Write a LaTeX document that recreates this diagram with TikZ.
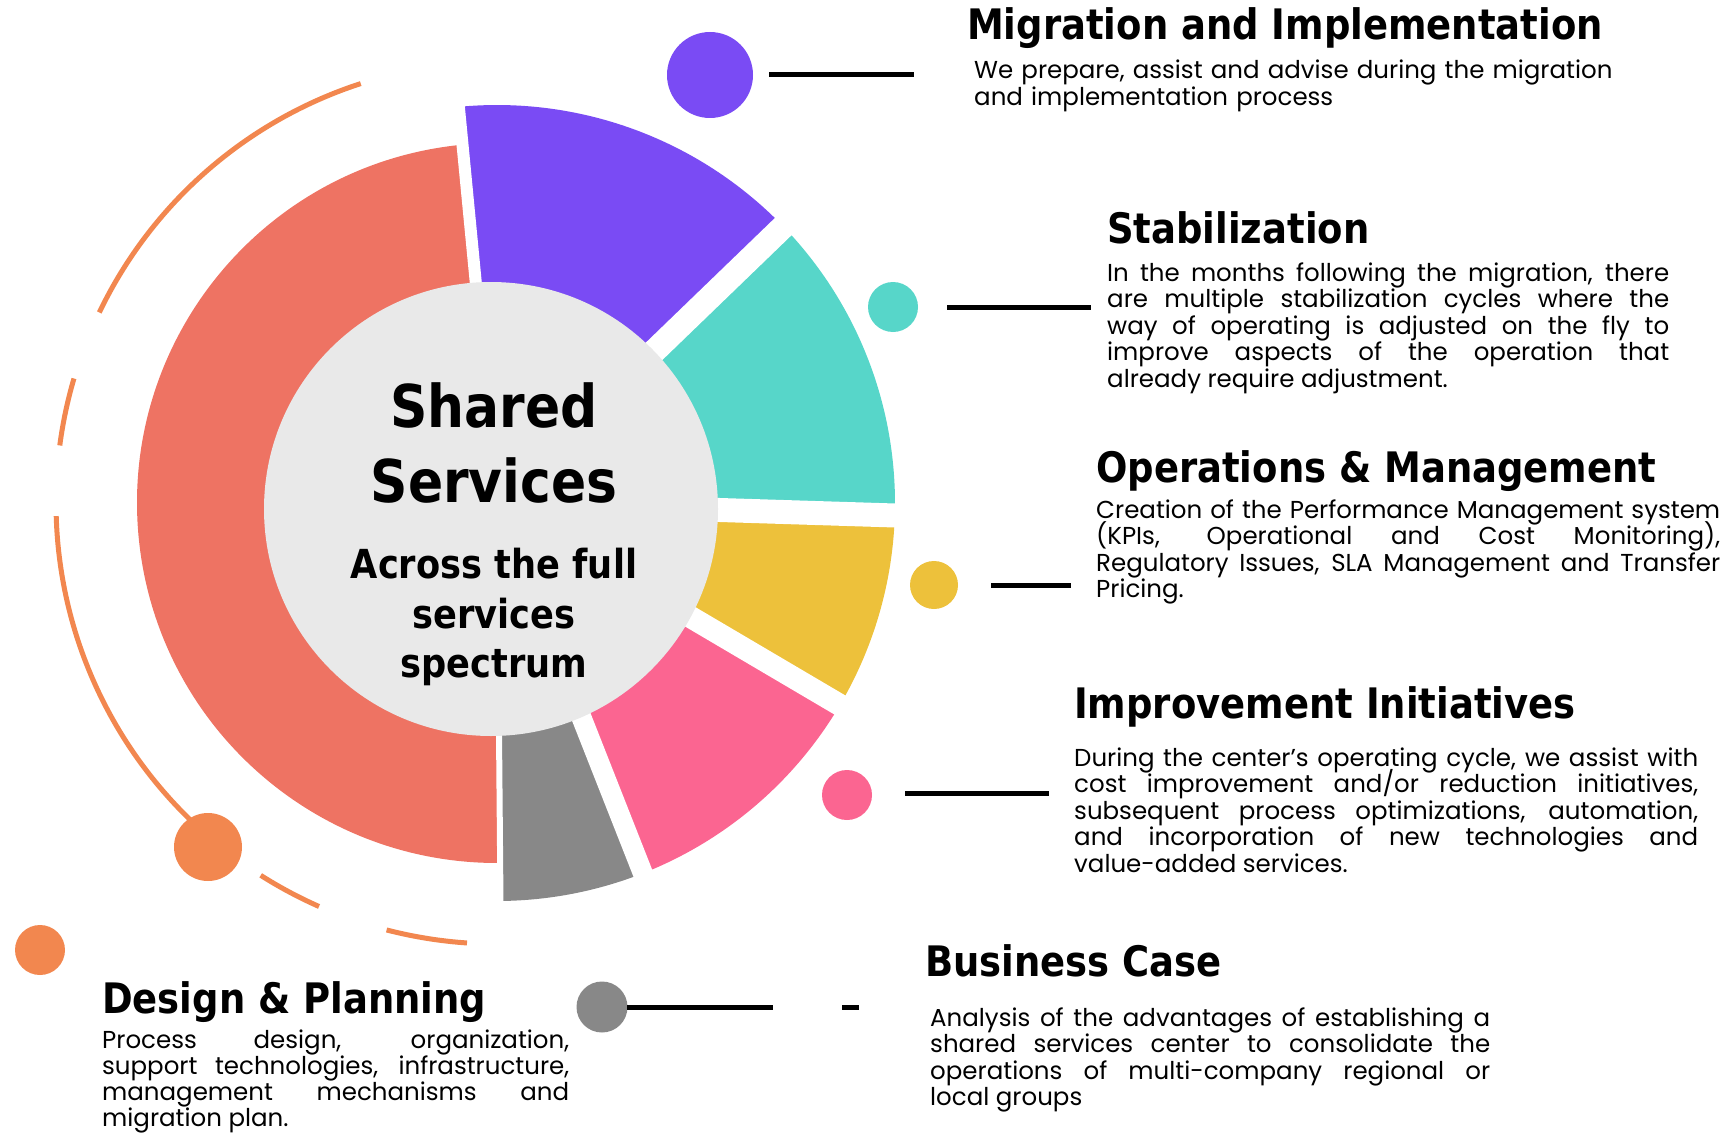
\documentclass[tikz,border=0pt]{standalone}
\usepackage{fontspec}
\setmainfont{Poppins}
\newfontfamily\headfont{DejaVu Sans}[FakeStretch=0.88]
\definecolor{coral}{HTML}{EE7363}
\definecolor{lilac}{HTML}{7A4BF4}
\definecolor{teal}{HTML}{57D6C9}
\definecolor{gold}{HTML}{EDC13B}
\definecolor{rose}{HTML}{FB6591}
\definecolor{slate}{HTML}{888888}
\definecolor{hub}{HTML}{E9E9E9}
\definecolor{orange}{HTML}{F2874F}
\tolerance=9999
\hbadness=10000
\newcommand{\tightlines}{\lineskiplimit=-50pt\relax}

\begin{document}
\begin{tikzpicture}[x=1pt,y=1pt,
  head/.style={anchor=base west,inner sep=0pt,font=\headfont\bfseries\fontsize{42}{48}\selectfont},
  body/.style={anchor=base west,inner sep=0pt,align=justify,font=\fontsize{24.5}{26.5}\selectfont\tightlines},
  mid/.style={anchor=base,inner sep=0pt},
  leader/.style={line width=5pt},
  dot/.style={circle,inner sep=0pt}]
\useasboundingbox (0,0) rectangle (1731,-1134);
\coordinate (O) at (497,-503);
% ring segments
\fill[coral] (O) -- ++(95.5:360) arc[start angle=95.5,end angle=270.5,radius=360] -- cycle;
\fill[lilac] (O) -- ++(44:398) arc[start angle=44,end angle=95.5,radius=398] -- cycle;
\fill[teal] (O) -- ++(-1.8:398) arc[start angle=-1.8,end angle=44,radius=398] -- cycle;
\fill[gold] (O) -- ++(-30.5:398) arc[start angle=-30.5,end angle=-1.8,radius=398] -- cycle;
\fill[rose] (O) -- ++(-68.5:398) arc[start angle=-68.5,end angle=-30.5,radius=398] -- cycle;
\fill[slate] (O) -- ++(-89.5:398) arc[start angle=-89.5,end angle=-68.5,radius=398] -- cycle;
\foreach \a/\w in {95.5/12, 44/24, -1.8/24, -30.5/22, -68.5/20, -89.5/6}
  \draw[white,line width=\w pt] (O) -- ++(\a:430);
\fill[hub] (491,-509) circle (227);
% dashed orbit
\foreach \s/\e in {108/154.4, 163.6/172.5, 181.7/230, 237.6/246.2, 255.5/266.1}
  \draw[orange,line width=5pt] (O) ++(\s:441) arc[start angle=\s,end angle=\e,radius=441];
\node[dot,fill=orange,minimum size=68pt] (orbitdot) at (208,-847) {};
\node[dot,fill=orange,minimum size=50pt] (designdot) at (40,-950) {};

% centre text
\node[mid,font=\headfont\bfseries\fontsize{59}{60}\selectfont] (shared) at (494,-427) {Shared};
\node[mid,font=\headfont\bfseries\fontsize{59}{60}\selectfont] (services) at (494,-502) {Services};
\node[mid,font=\headfont\bfseries\fontsize{40}{44}\selectfont] (across) at (494,-578) {Across the full};
\node[mid,font=\headfont\bfseries\fontsize{40}{44}\selectfont] (svcword) at (494,-628) {services};
\node[mid,font=\headfont\bfseries\fontsize{40}{44}\selectfont] (spectrum) at (494,-677) {spectrum};

% markers and leaders
\node[dot,fill=lilac,minimum size=86pt] (migdot) at (710,-75) {};
\coordinate (migA) at (769,-75); \coordinate (migB) at (914,-75);
\draw[leader] (migA) -- (migB);
\node[dot,fill=teal,minimum size=50pt] (stabdot) at (893,-307) {};
\coordinate (stabA) at (947,-307); \coordinate (stabB) at (1091,-307);
\draw[leader] (stabA) -- (stabB);
\node[dot,fill=gold,minimum size=48pt] (opsdot) at (934,-585) {};
\coordinate (opsA) at (991,-585); \coordinate (opsB) at (1071,-585);
\draw[leader] (opsA) -- (opsB);
\node[dot,fill=rose,minimum size=50pt] (impdot) at (847,-795) {};
\coordinate (impA) at (905,-793); \coordinate (impB) at (1049,-793);
\draw[leader] (impA) -- (impB);
\node[dot,fill=slate,minimum size=51pt] (busdot) at (602,-1007) {};
\coordinate (busA) at (627,-1007); \coordinate (busB) at (773,-1007);
\draw[leader] (busA) -- (busB);
\coordinate (busC) at (842,-1007); \coordinate (busD) at (859,-1007);
\draw[leader] (busC) -- (busD);

% texts
\node[head] (mighead) at (967,-40) {Migration and Implementation};
\node[body,text width=700pt,align=left] (migbody) at (974,-79)
  {We prepare, assist and advise during the migration\\and implementation process};

\node[head] (stabhead) at (1107,-243) {Stabilization};
\node[body,text width=562pt] (stabbody) at (1107,-281)
  {In the months following the migration, there\linebreak are multiple stabilization cycles where the\linebreak way of operating is adjusted on the fly to\linebreak improve aspects of the operation that\linebreak already require adjustment.};

\node[head] (opshead) at (1096,-482) {Operations \& Management};
\node[body,text width=624pt] (opsbody) at (1096,-518)
  {Creation of the Performance Management system\linebreak (KPIs, Operational and Cost Monitoring),\linebreak Regulatory Issues, SLA Management and Transfer\linebreak Pricing.};

\node[head] (imphead) at (1074,-718) {Improvement Initiatives};
\node[body,text width=624pt] (impbody) at (1074,-766)
  {During the center’s operating cycle, we assist with\linebreak cost improvement and/or reduction initiatives,\linebreak subsequent process optimizations, automation,\linebreak and incorporation of new technologies and\linebreak value-added services.};

\node[head] (bushead) at (925,-976) {Business Case};
\node[body,text width=560pt] (busbody) at (930,-1026)
  {Analysis of the advantages of establishing a\linebreak shared services center to consolidate the\linebreak operations of multi-company regional or\linebreak local groups};

\node[head] (deshead) at (102,-1013) {Design \& Planning};
\node[body,text width=467pt,font=\fontsize{24.5}{26}\selectfont\tightlines] (desbody) at (102,-1048)
  {Process design, organization,\linebreak support technologies, infrastructure,\linebreak management mechanisms and\linebreak migration plan.};
\end{tikzpicture}
\end{document}
